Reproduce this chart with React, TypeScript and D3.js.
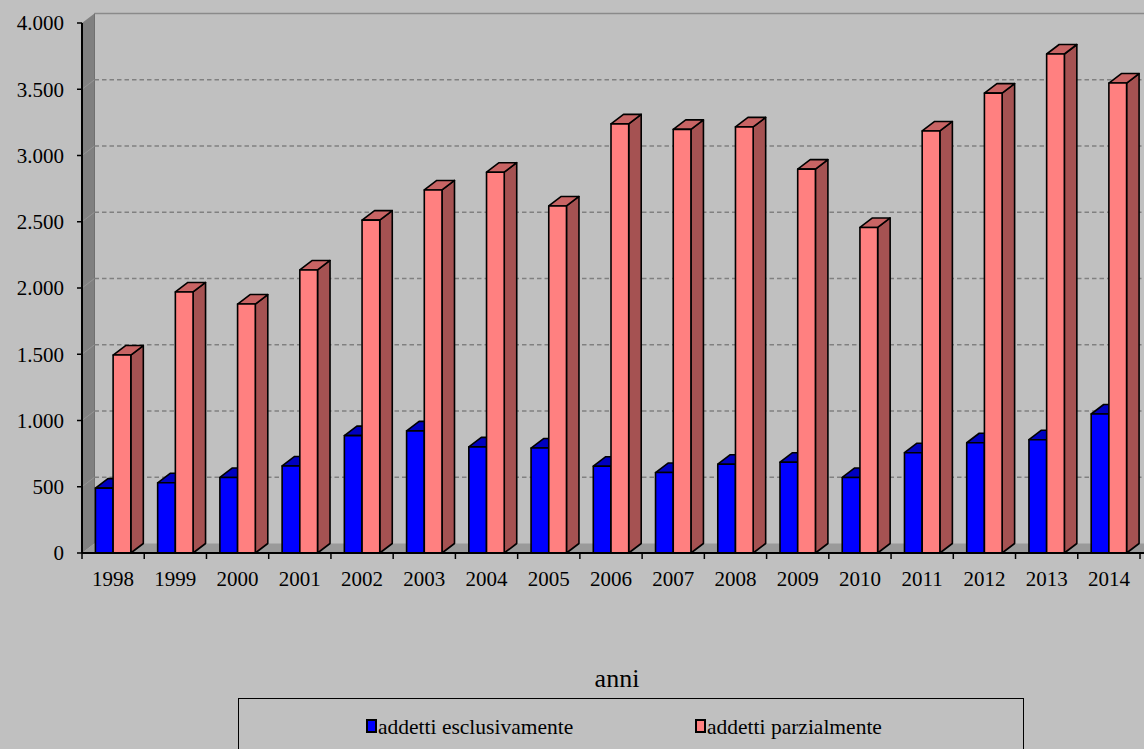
import React from "react";
import * as d3 from "d3";

const years = ["1998","1999","2000","2001","2002","2003","2004","2005","2006","2007","2008","2009","2010","2011","2012","2013","2014"];
const esclusivamente = [490, 530, 570, 657, 886, 922, 801, 792, 655, 607, 670, 685, 570, 757, 832, 855, 1049];
const parzialmente = [1494, 1970, 1879, 2136, 2512, 2740, 2874, 2619, 3239, 3197, 3216, 2897, 2457, 3185, 3471, 3766, 3547];
const yTicks = [0, 500, 1000, 1500, 2000, 2500, 3000, 3500, 4000];
const seriesNames = ["addetti esclusivamente", "addetti parzialmente"];

const W = 1144, H = 749;
const left = 82, right = 1140, top = 23, bottom = 553;
const DX = 12.5, DY = -9.5;
const FONT = "'Liberation Serif', 'Times New Roman', serif";

const itLocale = d3.formatLocale({ decimal: ",", thousands: ".", grouping: [3], currency: ["€", ""] });
const fmt = itLocale.format(",d");

const colors = [
  { front: "#0000ff", top: "#0000c0", side: "#000099" },
  { front: "#ff8080", top: "#c86464", side: "#a55252" },
];

function Bar3D({ x, w, y0, y1, c }: { x: number; w: number; y0: number; y1: number; c: any }) {
  const front = `M${x},${y0}L${x},${y1}L${x + w},${y1}L${x + w},${y0}Z`;
  const topF = `M${x},${y1}L${x + DX},${y1 + DY}L${x + w + DX},${y1 + DY}L${x + w},${y1}Z`;
  const side = `M${x + w},${y1}L${x + w + DX},${y1 + DY}L${x + w + DX},${y0 + DY}L${x + w},${y0}Z`;
  return (
    <g stroke="#000" strokeWidth={1.6} strokeLinejoin="round">
      <path d={side} fill={c.side} />
      <path d={topF} fill={c.top} />
      <path d={front} fill={c.front} />
    </g>
  );
}

export default function App() {
  const x = d3.scaleBand<string>().domain(years).range([left, right]).paddingInner(0).paddingOuter(0);
  const y = d3.scaleLinear().domain([0, 4000]).range([bottom, top]);
  const bw = 17.7;
  const inset = (x.bandwidth() - 2 * bw) / 2;

  return (
    <svg width={W} height={H} style={{ position: "absolute", left: 0, top: 0, display: "block", fontFamily: FONT }}>
      <rect x={0} y={0} width={W} height={H} fill="#c0c0c0" />
      {/* left wall */}
      <path d={`M${left},${top}L${left + DX},${top + DY}L${left + DX},${bottom + DY}L${left},${bottom}Z`} fill="#808080" />
      {/* floor */}
      <path d={`M${left},${bottom}L${left + DX},${bottom + DY}L${W + 20},${bottom + DY}L${W + 20},${bottom}Z`} fill="#9a9a9a" />
      {/* back wall edges */}
      <line x1={left + DX} x2={W} y1={top + DY} y2={top + DY} stroke="#8a8a8a" strokeWidth={1.5} />
      <line x1={left + DX} x2={left + DX} y1={top + DY} y2={bottom + DY} stroke="#707070" strokeWidth={1} />
      {/* gridlines */}
      {yTicks.filter(t => t > 0 && t < 4000).map(t => (
        <g key={t}>
          <line x1={left} y1={y(t)} x2={left + DX} y2={y(t) + DY} stroke="#999" strokeWidth={0.8} />
          <line x1={left + DX} x2={W} y1={y(t) + DY} y2={y(t) + DY} stroke="#808080" strokeWidth={1.6} strokeDasharray="4.5,3" />
        </g>
      ))}
      {/* bars */}
      {years.map((yr, i) => {
        const x0 = (x(yr) as number) + inset;
        return (
          <g key={yr}>
            <Bar3D x={x0} w={bw} y0={y(0)} y1={y(esclusivamente[i])} c={colors[0]} />
            <Bar3D x={x0 + bw} w={bw} y0={y(0)} y1={y(parzialmente[i])} c={colors[1]} />
          </g>
        );
      })}
      {/* y axis */}
      <line x1={left} x2={left} y1={top} y2={bottom} stroke="#000" strokeWidth={2} />
      {yTicks.map(t => (
        <g key={t}>
          <line x1={left - 5} x2={left} y1={y(t)} y2={y(t)} stroke="#000" strokeWidth={1.5} />
          <text x={64} y={y(t)} dy="0.35em" textAnchor="end" fontSize={21} fill="#000">{fmt(t)}</text>
        </g>
      ))}
      {/* x axis */}
      <line x1={left} x2={W} y1={bottom} y2={bottom} stroke="#000" strokeWidth={2} />
      {years.map(yr => (
        <line key={"t" + yr} x1={x(yr) as number} x2={x(yr) as number} y1={bottom} y2={bottom + 6} stroke="#000" strokeWidth={1.5} />
      ))}
      <line x1={right} x2={right} y1={bottom} y2={bottom + 6} stroke="#000" strokeWidth={1.5} />
      {years.map(yr => (
        <text key={"l" + yr} x={(x(yr) as number) + x.bandwidth() / 2} y={586} textAnchor="middle" fontSize={21} fill="#000">{yr}</text>
      ))}
      <text x={617} y={687} textAnchor="middle" fontSize={26} fill="#000">anni</text>
      {/* legend */}
      <rect x={238.5} y={698.5} width={785} height={70} fill="#c0c0c0" stroke="#000" strokeWidth={1} />
      {seriesNames.map((s, i) => {
        const lx = i === 0 ? 367 : 696;
        return (
          <g key={s}>
            <rect x={lx} y={720} width={9} height={12} fill={colors[i].front} stroke="#000" strokeWidth={2} />
            <text x={lx + 11} y={734} fontSize={21.5} fill="#000">{s}</text>
          </g>
        );
      })}
    </svg>
  );
}
